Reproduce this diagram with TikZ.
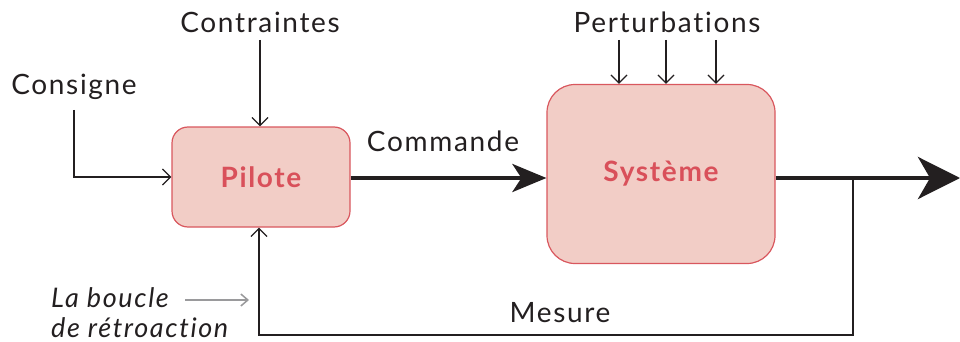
\documentclass[tikz,border=0pt]{standalone}
\usepackage{fontspec}
\setmainfont{Lato}[LetterSpace=6,Ligatures={NoCommon,NoRare,NoDiscretionary}]
\usetikzlibrary{arrows.meta}
\definecolor{boxfill}{HTML}{F2CDC6}
\definecolor{boxline}{HTML}{D9575E}
\definecolor{boxtext}{HTML}{D9505A}
\definecolor{ink}{HTML}{231F20}
\definecolor{greyarr}{HTML}{9A9A9C}
\tikzset{
  x=1pt,y=-1pt,
  block/.style={draw=boxline,fill=boxfill,line width=1.2pt,text=boxtext,font=\fontsize{28}{32}\selectfont\bfseries,inner sep=0pt},
  lbl/.style={text=ink,font=\fontsize{28}{32}\selectfont,inner sep=0pt},
  thin/.style={draw=ink,line width=1.3pt,-{Straight Barb[length=8pt,width=16pt,line width=1.3pt]}},
  thick/.style={draw=ink,line width=4pt,-{Stealth[length=34pt,width=28pt,inset=9pt]}},
}
\begin{document}
\begin{tikzpicture}
\useasboundingbox (0,0) rectangle (960,342);
\node[block,minimum width=178pt,minimum height=100pt,rounded corners=16pt] (pil) at (261,177) {Pilote};
\node[block,minimum width=228pt,minimum height=179pt,rounded corners=28pt] (sys) at (661,174) {Système};
\node[lbl] (cons) at (74,87) {Consigne};
\node[lbl] (contr) at (260,22) {Contraintes};
\node[lbl] (pert) at (667,22) {Perturbations};
\node[lbl] (cmd) at (443,141) {Commande};
\node[lbl] (mes) at (560,313) {Mesure};
\node[lbl,font=\fontsize{27}{30}\selectfont\itshape,align=left,anchor=west] (boucle) at (51,313) {La boucle\\de rétroaction};
\coordinate (c1) at (74,110);
\coordinate (c2) at (260,40);
\coordinate (p1) at (619,40);
\coordinate (p2) at (666,40);
\coordinate (p3) at (716,40);
\coordinate (out) at (960,178);
\coordinate (tap) at (853,178);
\coordinate (b1) at (853,335);
\coordinate (b2) at (259,335);
\coordinate (g1) at (185,300);
\coordinate (g2) at (249,300);
\draw[thin] (c1) |- (pil.west);
\draw[thin] (c2) -- (pil.north -| c2);
\draw[thin] (p1) -- (sys.north -| p1);
\draw[thin] (p2) -- (sys.north -| p2);
\draw[thin] (p3) -- (sys.north -| p3);
\draw[thick] (pil.east |- 0,178) -- (sys.west |- 0,178);
\draw[draw=ink,line width=4.5pt,-{Stealth[length=42pt,width=42pt,inset=12pt]}] (sys.east |- 0,178) -- (out);
\draw[thin] (tap) -- (b1) -- (b2) -- (pil.south -| b2);
\draw[draw=greyarr,line width=1.5pt,-{Straight Barb[length=7pt,width=12pt,line width=1.5pt]}] (g1) -- (g2);
\end{tikzpicture}
\end{document}
